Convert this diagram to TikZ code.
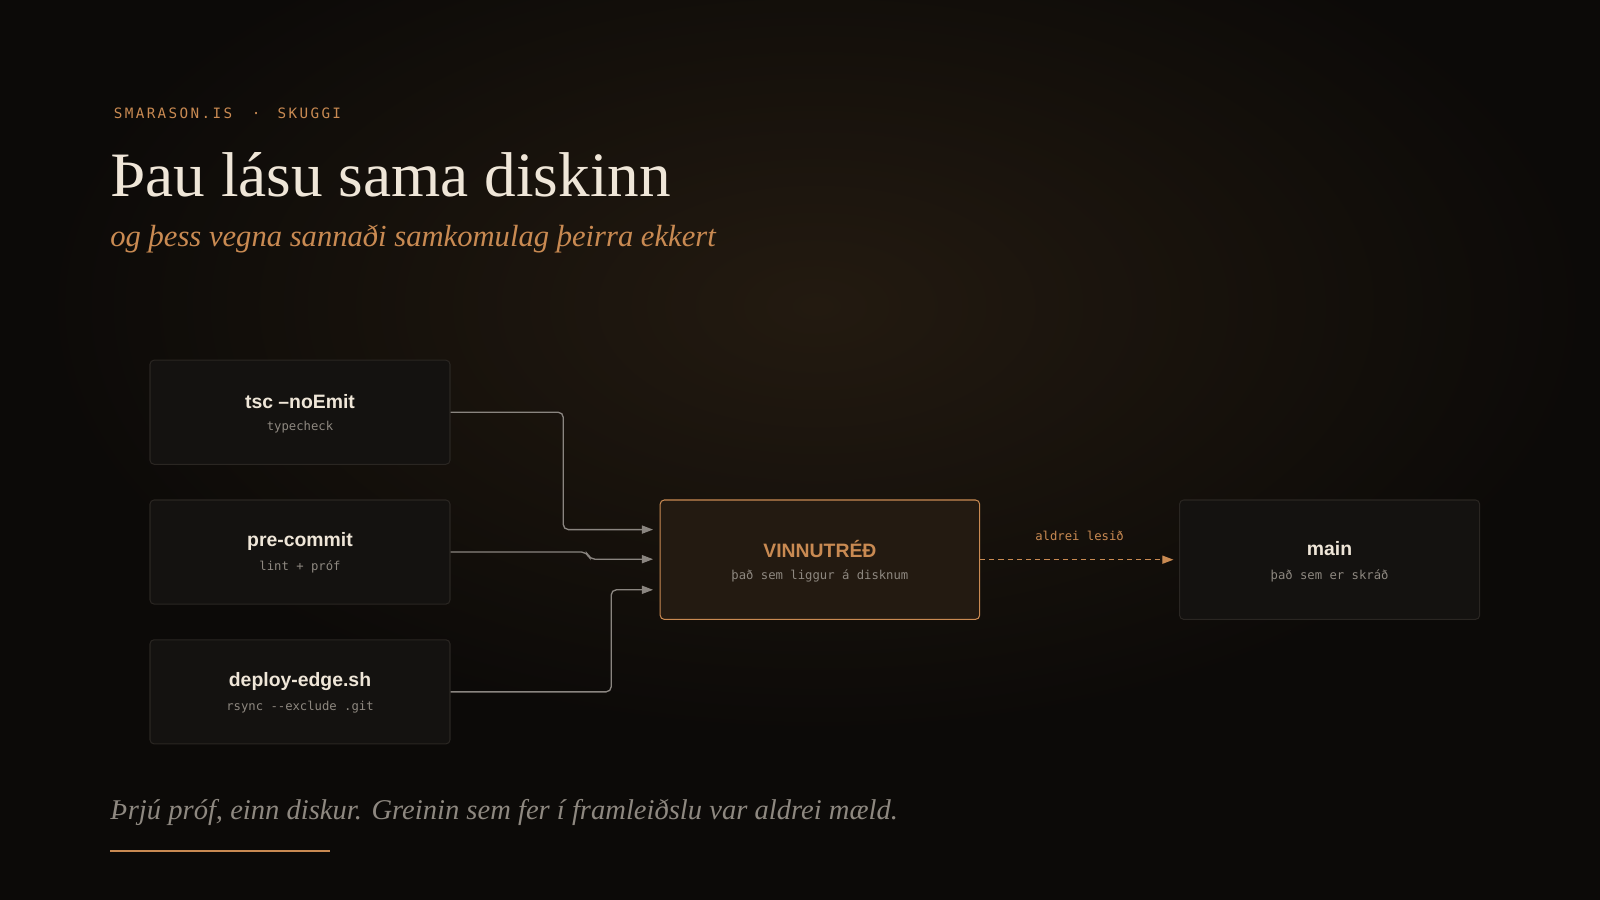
\documentclass[tikz,border=0pt]{standalone}
\usepackage{fontspec}
\setmainfont{Liberation Serif}
\setsansfont{Liberation Sans}
\setmonofont{DejaVu Sans Mono}
\usetikzlibrary{arrows.meta}
\definecolor{bg}{HTML}{0C0A08}
\definecolor{glow}{HTML}{231A10}
\definecolor{boxfill}{HTML}{141210}
\definecolor{boxline}{HTML}{2A2622}
\definecolor{vfill}{HTML}{231A11}
\definecolor{orange}{HTML}{C98A52}
\definecolor{cream}{HTML}{EFE6D8}
\definecolor{grayt}{HTML}{8E8880}
\definecolor{conn}{HTML}{8A8580}
\tikzset{
  box/.style={draw=boxline,fill=boxfill,rounded corners=4pt,line width=1pt,minimum width=294pt,minimum height=102pt,inner sep=0pt},
  ttl/.style={font=\sffamily\bfseries\fontsize{19}{22}\selectfont,text=cream},
  sub/.style={font=\ttfamily\fontsize{12}{14}\selectfont,text=grayt},
  con/.style={draw=conn,line width=1.3pt,rounded corners=5pt,-{Triangle[length=11pt,width=8pt]}},
}
\begin{document}
\begin{tikzpicture}[x=1pt,y=-1pt]
\useasboundingbox (0,0) rectangle (1568,882);
\fill[bg] (0,0) rectangle (1568,882);
\shade[inner color=glow,outer color=bg] (800,300) ellipse [x radius=760,y radius=420];
\node[anchor=west,font=\ttfamily\fontsize{14}{16}\selectfont,text=orange] (kick) at (108,111) {S\,M\,A\,R\,A\,S\,O\,N\,.\,I\,S\,\ \ ·\ \ S\,K\,U\,G\,G\,I};
\node[anchor=base west,inner sep=0pt,font=\fontsize{62}{70}\selectfont,text=cream] (title) at (108,193) {Þau lásu sama diskinn};
\node[anchor=base west,inner sep=0pt,font=\itshape\fontsize{30}{34}\selectfont,text=orange] (subt) at (108,242) {og þess vegna sannaði samkomulag þeirra ekkert};
\node[box] (a) at (294,404) {};
\node[ttl] at (294,394) {tsc --noEmit};
\node[sub] at (294,419) {typecheck};
\node[box] (b) at (294,541) {};
\node[ttl] at (294,531) {pre-commit};
\node[sub] at (294,556) {lint + próf};
\node[box] (c) at (294,678) {};
\node[ttl] at (294,668) {deploy-edge.sh};
\node[sub] at (294,693) {rsync -{}-exclude .git};
\node[box,draw=orange,fill=vfill,minimum width=313pt,minimum height=117pt] (v) at (803.5,548.5) {};
\node[ttl,text=orange] at (803.5,538) {VINNUTRÉÐ};
\node[sub] at (803.5,564) {það sem liggur á disknum};
\node[box,minimum width=294pt,minimum height=117pt] (m) at (1303,548.5) {};
\node[ttl] at (1303,538) {main};
\node[sub] at (1303,564) {það sem er skráð};
\coordinate (ta) at (640,519);
\coordinate (tb) at (640,548);
\coordinate (tc) at (640,578);
\draw[con] (a.east|-0,404) -- (552,404) -- (552,519) -- (ta);
\draw[con] (b.east) -- (575,541) -- (578,548) -- (tb);
\draw[con] (c.east) -- (599,678) -- (599,578) -- (tc);
\draw[draw=orange,line width=1.3pt,dash pattern=on 5pt off 4pt,-{Triangle[length=11pt,width=8pt]}] (v.east) -- (1150,548.5) coordinate (me);
\node[font=\ttfamily\fontsize{12}{14}\selectfont,text=orange] (lbl) at (1058,525) {aldrei lesið};
\node[anchor=base west,inner sep=0pt,font=\itshape\fontsize{28}{32}\selectfont,text=grayt] (foot) at (108,803) {Þrjú próf, einn diskur. Greinin sem fer í framleiðslu var aldrei mæld.};
\draw[orange,line width=1.5pt] (108,834) -- (323,834);
\end{tikzpicture}
\end{document}
